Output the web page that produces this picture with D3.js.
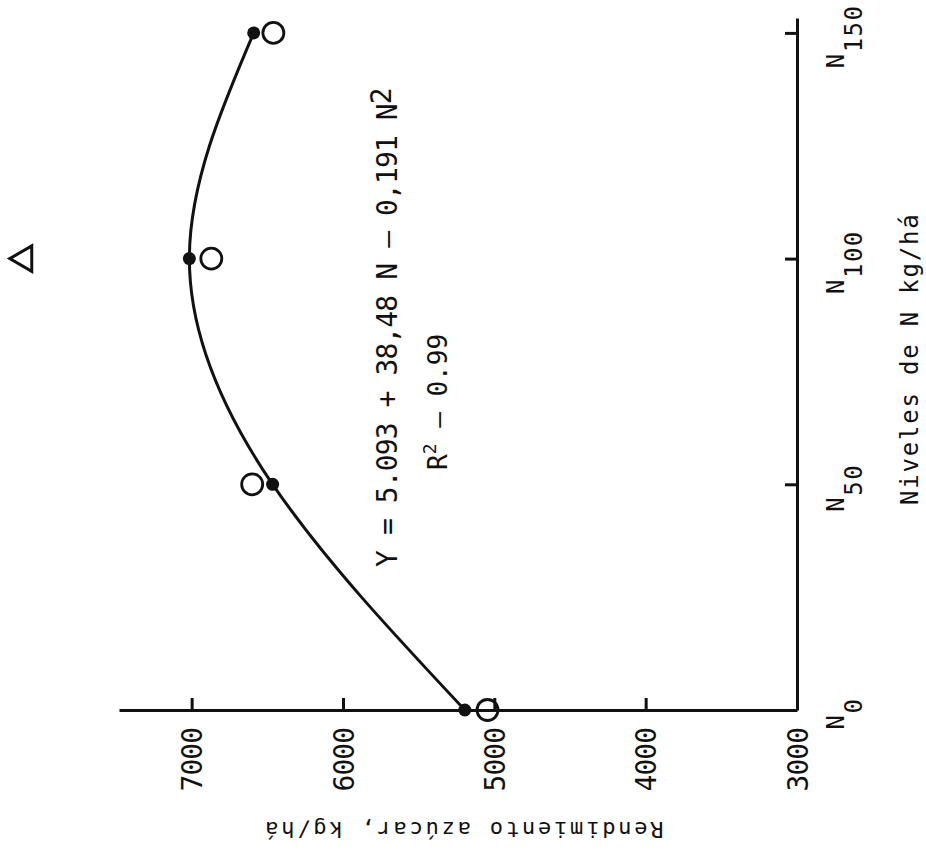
<!DOCTYPE html>
<html>
<head>
<meta charset="utf-8">
<script src="https://cdn.jsdelivr.net/npm/d3@7"></script>
<style>
body { margin: 0; background: #fff; }
text { font-family: "DejaVu Sans Mono", monospace; fill: #111; }
</style>
</head>
<body>
<script>
// Define SVG dimensions
var svgWidth = 926;
var svgHeight = 853;

// Values
var nLevels = [0, 50, 100, 150];
var nLabels = ["0", "50", "100", "150"];
var fittedYield = [5195, 6465, 7015, 6590];
var observedYield = [5045, 6600, 6870, 6460];
var triangleN = [100];
var triangleYield = [8105];
var yieldTicks = [3000, 4000, 5000, 6000, 7000];

var svg = d3.select("body")
  .append("svg")
  .attr("width", svgWidth)
  .attr("height", svgHeight);

// The figure is turned a quarter turn: N runs up the page, yield runs to the left
var nScale = d3.scaleLinear().domain([0, 153.3]).range([710, 18]);
var yieldScale = d3.scaleLinear().domain([3000, 7480]).range([797, 119]);

// Yield axis (horizontal, along the bottom)
var yieldAxis = d3.axisBottom(yieldScale)
  .tickValues(yieldTicks)
  .tickSizeInner(-12)
  .tickSizeOuter(0)
  .tickFormat(d3.format("d"));

var gy = svg.append("g")
  .attr("transform", "translate(0,710)")
  .call(yieldAxis);
gy.select(".domain").attr("stroke-width", 3).attr("stroke", "#111");
gy.selectAll(".tick line").attr("stroke-width", 3).attr("stroke", "#111");
gy.selectAll(".tick text")
  .attr("transform", "rotate(-90)")
  .attr("x", -18)
  .attr("y", 0)
  .attr("dy", "0.36em")
  .attr("text-anchor", "end")
  .attr("font-size", 28)
  .attr("letter-spacing", -1);

// N axis (vertical, on the right)
var nAxis = d3.axisRight(nScale)
  .tickValues(nLevels)
  .tickSizeInner(-12)
  .tickSizeOuter(0)
  .tickFormat(function() { return ""; });

var gn = svg.append("g")
  .attr("transform", "translate(797,0)")
  .call(nAxis);
gn.select(".domain").attr("stroke-width", 3).attr("stroke", "#111");
gn.selectAll(".tick line").attr("stroke-width", 3).attr("stroke", "#111");
gn.selectAll(".tick text").each(function(d, i) {
  var t = d3.select(this)
    .text(null)
    .attr("transform", "rotate(-90)")
    .attr("x", -3)
    .attr("y", 47)
    .attr("dy", null)
    .attr("text-anchor", "middle")
    .attr("font-size", 24)
    .attr("letter-spacing", 1.5);
  t.append("tspan").text("N");
  t.append("tspan").attr("dy", 18).text(nLabels[i]);
});

// Fitted curve through the filled points
var fitted = nLevels.map(function(n, i) { return {n: n, y: fittedYield[i]}; });
var observed = nLevels.map(function(n, i) { return {n: n, y: observedYield[i]}; });

var line = d3.line()
  .x(function(d) { return yieldScale(d.y); })
  .y(function(d) { return nScale(d.n); })
  .curve(d3.curveNatural);

svg.append("path")
  .datum(fitted)
  .attr("d", line)
  .attr("fill", "none")
  .attr("stroke", "#111")
  .attr("stroke-width", 3);

svg.selectAll(".filled")
  .data(fitted)
  .enter().append("circle")
  .attr("class", "filled")
  .attr("cx", function(d) { return yieldScale(d.y); })
  .attr("cy", function(d) { return nScale(d.n); })
  .attr("r", 6.5)
  .attr("fill", "#111");

svg.selectAll(".open")
  .data(observed)
  .enter().append("circle")
  .attr("class", "open")
  .attr("cx", function(d) { return yieldScale(d.y); })
  .attr("cy", function(d) { return nScale(d.n); })
  .attr("r", 10.5)
  .attr("fill", "none")
  .attr("stroke", "#111")
  .attr("stroke-width", 2.8);

// lone triangle marker
svg.selectAll(".tri")
  .data(triangleN)
  .enter().append("path")
  .attr("class", "tri")
  .attr("d", d3.symbol().type(d3.symbolTriangle).size(280))
  .attr("transform", function(d, i) {
    return "translate(" + yieldScale(triangleYield[i]) + "," + nScale(d) + ") rotate(-90)";
  })
  .attr("fill", "none")
  .attr("stroke", "#111")
  .attr("stroke-width", 3)
  .attr("stroke-linejoin", "miter");

// Equation
var eq = svg.append("text")
  .attr("transform", "translate(397,567) rotate(-90)")
  .attr("font-size", 28)
  .attr("letter-spacing", -0.9);
eq.append("tspan").text("Y = 5.093 + 38,48 N \u2014 0,191 N");
eq.append("tspan").attr("dy", -6).text("2");

var r2 = svg.append("text")
  .attr("transform", "translate(447,470) rotate(-90)")
  .attr("font-size", 26);
r2.append("tspan").text("R");
r2.append("tspan").attr("dy", -11).attr("font-size", 18).text("2");
r2.append("tspan").attr("dy", 11).text(" \u2014 0.99");

// Axis titles
svg.append("text")
  .attr("transform", "translate(918,505) rotate(-90)")
  .attr("font-size", 24)
  .attr("letter-spacing", 1.8)
  .text("Niveles de N kg/há");

svg.append("text")
  .attr("transform", "translate(463,822) rotate(180)")
  .attr("text-anchor", "middle")
  .attr("font-size", 22)
  .attr("letter-spacing", 2.8)
  .text("Rendimiento azúcar, kg/há");
</script>
</body>
</html>
